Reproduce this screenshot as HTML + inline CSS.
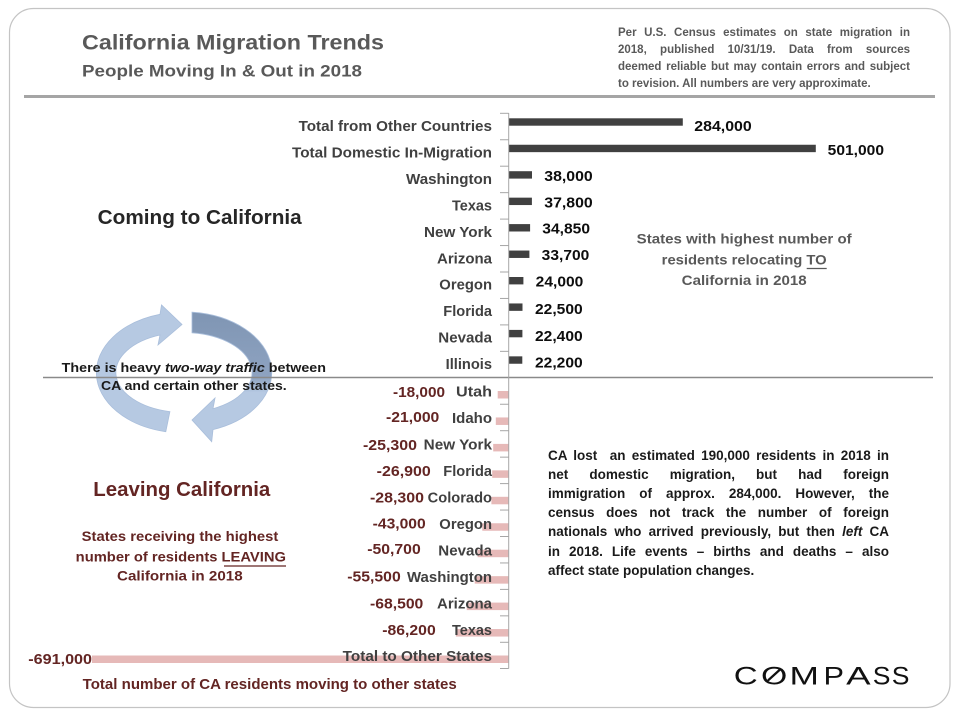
<!DOCTYPE html>
<html><head><meta charset="utf-8"><style>
html,body{margin:0;padding:0;background:#fff;}
body{width:960px;height:720px;position:relative;overflow:hidden;font-family:"Liberation Sans",sans-serif;}
svg{position:absolute;left:0;top:0;}
.note{position:absolute;left:618px;top:24.8px;width:292px;font-size:11.5px;line-height:17px;font-weight:bold;color:#595959;}
.para{position:absolute;left:548px;top:445.7px;width:341px;font-size:13.5px;line-height:19.17px;font-weight:bold;color:#1a1a1a;}
.j{text-align:justify;text-align-last:justify;}
</style></head><body>
<svg width="960" height="720" viewBox="0 0 960 720" xmlns="http://www.w3.org/2000/svg" font-family="Liberation Sans, sans-serif">
<defs>
<linearGradient id="rg" x1="0" y1="312" x2="0" y2="442" gradientUnits="userSpaceOnUse">
<stop offset="0" stop-color="#7f95b3"/>
<stop offset="0.5" stop-color="#8ea3c1"/>
<stop offset="0.62" stop-color="#b6c9e2"/>
<stop offset="1" stop-color="#b6c9e2"/>
</linearGradient>
</defs>
<!-- frame -->
<rect x="9.5" y="8.5" width="940.5" height="699" rx="24" ry="24" fill="none" stroke="#c4c4c4" stroke-width="1.2"/>
<!-- title -->
<text x="82" y="49.3" font-size="21" font-weight="bold" fill="#595959" textLength="302" lengthAdjust="spacingAndGlyphs">California Migration Trends</text>
<text x="82" y="76.7" font-size="16.3" font-weight="bold" fill="#595959" textLength="280" lengthAdjust="spacingAndGlyphs">People Moving In &amp; Out in 2018</text>
<line x1="24" y1="96.5" x2="935" y2="96.5" stroke="#a5a5a5" stroke-width="3"/>

<!-- arrows -->
<path d="M165.8 431.7 A87.5 60.5 0 0 1 160 314.3 L161.5 305 L182 324.5 L158 345 L160 335 A68 40 0 0 0 169.9 411.6 Z" fill="#b6c9e2" stroke="#a9bedb" stroke-width="0.8"/>
<path d="M192 312.2 A87.5 60.5 0 0 1 213 429.6 L211.7 441.7 L192 420 L215 398 L213 408.7 A68 40 0 0 0 192 332.8 Z" fill="url(#rg)" stroke="#a9bedb" stroke-width="0.8"/>

<!-- middle horizontal line -->
<line x1="43" y1="377.5" x2="933" y2="377.5" stroke="#8a8a8a" stroke-width="1.5"/>

<!-- positive bars -->
<g fill="#404040">
<rect x="508.7" y="118.3" width="174.1" height="7.4"/>
<rect x="508.7" y="144.75" width="307.1" height="7.4"/>
<rect x="508.7" y="171.2" width="23.3" height="7.4"/>
<rect x="508.7" y="197.65" width="23.2" height="7.4"/>
<rect x="508.7" y="224.1" width="21.4" height="7.4"/>
<rect x="508.7" y="250.55" width="20.7" height="7.4"/>
<rect x="508.7" y="277" width="14.7" height="7.4"/>
<rect x="508.7" y="303.45" width="13.8" height="7.4"/>
<rect x="508.7" y="329.9" width="13.7" height="7.4"/>
<rect x="508.7" y="356.35" width="13.6" height="7.4"/>
</g>
<!-- negative bars -->
<g fill="#e6b9b8">
<rect x="497.7" y="391" width="11" height="7.5"/>
<rect x="495.8" y="417.45" width="12.9" height="7.5"/>
<rect x="493.2" y="443.9" width="15.5" height="7.5"/>
<rect x="492.2" y="470.35" width="16.5" height="7.5"/>
<rect x="491.4" y="496.8" width="17.3" height="7.5"/>
<rect x="482.3" y="523.25" width="26.4" height="7.5"/>
<rect x="477.6" y="549.7" width="31.1" height="7.5"/>
<rect x="474.7" y="576.15" width="34" height="7.5"/>
<rect x="466.7" y="602.6" width="42" height="7.5"/>
<rect x="455.9" y="629.05" width="52.8" height="7.5"/>
<rect x="92" y="655.5" width="416.7" height="7.5"/>
</g>

<!-- axis -->
<g stroke="#a6a6a6" stroke-width="1">
<line x1="508.7" y1="113" x2="508.7" y2="668.5"/>
<line x1="500" y1="113.3" x2="508.7" y2="113.3"/>
<line x1="500" y1="139.75" x2="508.7" y2="139.75"/>
<line x1="500" y1="166.2" x2="508.7" y2="166.2"/>
<line x1="500" y1="192.65" x2="508.7" y2="192.65"/>
<line x1="500" y1="219.1" x2="508.7" y2="219.1"/>
<line x1="500" y1="245.55" x2="508.7" y2="245.55"/>
<line x1="500" y1="272" x2="508.7" y2="272"/>
<line x1="500" y1="298.45" x2="508.7" y2="298.45"/>
<line x1="500" y1="324.9" x2="508.7" y2="324.9"/>
<line x1="500" y1="351.35" x2="508.7" y2="351.35"/>
<line x1="500" y1="404.25" x2="508.7" y2="404.25"/>
<line x1="500" y1="430.7" x2="508.7" y2="430.7"/>
<line x1="500" y1="457.15" x2="508.7" y2="457.15"/>
<line x1="500" y1="483.6" x2="508.7" y2="483.6"/>
<line x1="500" y1="510.05" x2="508.7" y2="510.05"/>
<line x1="500" y1="536.5" x2="508.7" y2="536.5"/>
<line x1="500" y1="562.95" x2="508.7" y2="562.95"/>
<line x1="500" y1="589.4" x2="508.7" y2="589.4"/>
<line x1="500" y1="615.85" x2="508.7" y2="615.85"/>
<line x1="500" y1="642.3" x2="508.7" y2="642.3"/>
<line x1="500" y1="668.5" x2="508.7" y2="668.5"/>
</g>

<!-- category labels -->
<g font-size="14.5" font-weight="bold" fill="#404040" text-anchor="end">
<text x="492" y="131" textLength="193.4" lengthAdjust="spacingAndGlyphs">Total from Other Countries</text>
<text x="492" y="157.45" textLength="200" lengthAdjust="spacingAndGlyphs">Total Domestic In-Migration</text>
<text x="492" y="183.9" textLength="86" lengthAdjust="spacingAndGlyphs">Washington</text>
<text x="492" y="210.35" textLength="40" lengthAdjust="spacingAndGlyphs">Texas</text>
<text x="492" y="236.8" textLength="68" lengthAdjust="spacingAndGlyphs">New York</text>
<text x="492" y="263.25" textLength="55" lengthAdjust="spacingAndGlyphs">Arizona</text>
<text x="492" y="289.7" textLength="52.7" lengthAdjust="spacingAndGlyphs">Oregon</text>
<text x="492" y="316.15" textLength="48.7" lengthAdjust="spacingAndGlyphs">Florida</text>
<text x="492" y="342.6" textLength="53.7" lengthAdjust="spacingAndGlyphs">Nevada</text>
<text x="492" y="369.05" textLength="46.3" lengthAdjust="spacingAndGlyphs">Illinois</text>
<text x="492" y="396.7" textLength="36" lengthAdjust="spacingAndGlyphs">Utah</text>
<text x="492" y="423.15" textLength="40" lengthAdjust="spacingAndGlyphs">Idaho</text>
<text x="492" y="449.6" textLength="68.3" lengthAdjust="spacingAndGlyphs">New York</text>
<text x="492" y="476.05" textLength="48.7" lengthAdjust="spacingAndGlyphs">Florida</text>
<text x="492" y="502.5" textLength="64.3" lengthAdjust="spacingAndGlyphs">Colorado</text>
<text x="492" y="528.95" textLength="52.7" lengthAdjust="spacingAndGlyphs">Oregon</text>
<text x="492" y="555.4" textLength="53.7" lengthAdjust="spacingAndGlyphs">Nevada</text>
<text x="492" y="581.85" textLength="85" lengthAdjust="spacingAndGlyphs">Washington</text>
<text x="492" y="608.3" textLength="55" lengthAdjust="spacingAndGlyphs">Arizona</text>
<text x="492" y="634.75" textLength="40" lengthAdjust="spacingAndGlyphs">Texas</text>
<text x="492" y="661.2" textLength="149.3" lengthAdjust="spacingAndGlyphs">Total to Other States</text>
</g>

<!-- positive values -->
<g font-size="15" font-weight="bold" fill="#0d0d0d">
<text x="694.3" y="131" textLength="57.4" lengthAdjust="spacingAndGlyphs">284,000</text>
<text x="827.7" y="155" textLength="56.3" lengthAdjust="spacingAndGlyphs">501,000</text>
<text x="544.3" y="181" textLength="48.4" lengthAdjust="spacingAndGlyphs">38,000</text>
<text x="544.3" y="207.7" textLength="48.4" lengthAdjust="spacingAndGlyphs">37,800</text>
<text x="542.3" y="233.3" textLength="47.7" lengthAdjust="spacingAndGlyphs">34,850</text>
<text x="541.7" y="260" textLength="47.6" lengthAdjust="spacingAndGlyphs">33,700</text>
<text x="535.7" y="286.7" textLength="47.6" lengthAdjust="spacingAndGlyphs">24,000</text>
<text x="535" y="314" textLength="47.7" lengthAdjust="spacingAndGlyphs">22,500</text>
<text x="535" y="341" textLength="47.7" lengthAdjust="spacingAndGlyphs">22,400</text>
<text x="535" y="367.7" textLength="47.7" lengthAdjust="spacingAndGlyphs">22,200</text>
</g>

<!-- negative values -->
<g font-size="15" font-weight="bold" fill="#632523">
<text x="393" y="397" textLength="52" lengthAdjust="spacingAndGlyphs">-18,000</text>
<text x="386" y="422" textLength="53.3" lengthAdjust="spacingAndGlyphs">-21,000</text>
<text x="363" y="450" textLength="54" lengthAdjust="spacingAndGlyphs">-25,300</text>
<text x="376.7" y="476" textLength="54" lengthAdjust="spacingAndGlyphs">-26,900</text>
<text x="370" y="502.7" textLength="54" lengthAdjust="spacingAndGlyphs">-28,300</text>
<text x="372.7" y="528.3" textLength="53" lengthAdjust="spacingAndGlyphs">-43,000</text>
<text x="367.3" y="554" textLength="53.4" lengthAdjust="spacingAndGlyphs">-50,700</text>
<text x="347.3" y="581.7" textLength="53.4" lengthAdjust="spacingAndGlyphs">-55,500</text>
<text x="370" y="608.3" textLength="53.3" lengthAdjust="spacingAndGlyphs">-68,500</text>
<text x="382.3" y="635" textLength="53.4" lengthAdjust="spacingAndGlyphs">-86,200</text>
<text x="28.3" y="664" textLength="63.7" lengthAdjust="spacingAndGlyphs">-691,000</text>
</g>

<!-- left side texts -->
<text x="97.7" y="224" font-size="20" font-weight="bold" fill="#262626" textLength="204" lengthAdjust="spacingAndGlyphs">Coming to California</text>
<text x="61.7" y="372" font-size="12.8" font-weight="bold" fill="#1a1a1a" textLength="264.3" lengthAdjust="spacingAndGlyphs">There is heavy <tspan font-style="italic">two-way traffic</tspan> between</text>
<text x="101" y="390" font-size="12.8" font-weight="bold" fill="#1a1a1a" textLength="185.7" lengthAdjust="spacingAndGlyphs">CA and certain other states.</text>

<text x="93.3" y="496" font-size="20" font-weight="bold" fill="#632523" textLength="177" lengthAdjust="spacingAndGlyphs">Leaving California</text>
<g font-size="14" font-weight="bold" fill="#632523">
<text x="81.7" y="541" textLength="196.6" lengthAdjust="spacingAndGlyphs">States receiving the highest</text>
<text x="75.7" y="561.7" textLength="210.3" lengthAdjust="spacingAndGlyphs">number of residents LEAVING</text>
<text x="117" y="580.7" textLength="125.7" lengthAdjust="spacingAndGlyphs">California  in 2018</text>
</g>
<line x1="224" y1="566" x2="286" y2="566" stroke="#632523" stroke-width="1.2"/>
<text x="82.7" y="689" font-size="15" font-weight="bold" fill="#632523" textLength="374" lengthAdjust="spacingAndGlyphs">Total number of CA residents moving to other states</text>

<!-- right side caption -->
<g font-size="14" font-weight="bold" fill="#595959">
<text x="636.7" y="243.3" textLength="215" lengthAdjust="spacingAndGlyphs">States with highest number of</text>
<text x="661.7" y="264.3" textLength="165" lengthAdjust="spacingAndGlyphs">residents relocating TO</text>
<text x="681.7" y="285" textLength="125" lengthAdjust="spacingAndGlyphs">California  in 2018</text>
</g>
<line x1="806.7" y1="268.5" x2="826.7" y2="268.5" stroke="#595959" stroke-width="1.2"/>

<!-- COMPASS logo -->
<g font-size="25" fill="#111">
<text x="733.8" y="684.3" textLength="24" lengthAdjust="spacingAndGlyphs">C</text>
<text x="761" y="684.3" textLength="26.3" lengthAdjust="spacingAndGlyphs">O</text>
<text x="789.5" y="684.3" textLength="29.4" lengthAdjust="spacingAndGlyphs">M</text>
<text x="823.5" y="684.3" textLength="20.5" lengthAdjust="spacingAndGlyphs">P</text>
<text x="846.2" y="684.3" textLength="24.5" lengthAdjust="spacingAndGlyphs">A</text>
<text x="872.8" y="684.3" textLength="17.7" lengthAdjust="spacingAndGlyphs">S</text>
<text x="891.8" y="684.3" textLength="17.7" lengthAdjust="spacingAndGlyphs">S</text>
</g>
<line x1="768.5" y1="680" x2="779.5" y2="670" stroke="#111" stroke-width="2.2" stroke-linecap="round"/>
</svg>

<div class="note">
<div class="j">Per U.S. Census estimates on state migration in</div>
<div class="j">2018, published 10/31/19. Data from sources</div>
<div class="j">deemed reliable but may contain errors and subject</div>
<div>to revision. All numbers are very approximate.</div>
</div>

<div class="para">
<div class="j">CA lost &nbsp;an estimated 190,000 residents in 2018 in</div>
<div class="j">net domestic migration, but had foreign</div>
<div class="j">immigration of approx. 284,000. However, the</div>
<div class="j">census does not track the number of foreign</div>
<div class="j">nationals who arrived previously, but then <i>left</i> CA</div>
<div class="j">in 2018. Life events – births and deaths – also</div>
<div>affect state population changes.</div>
</div>
</body></html>
